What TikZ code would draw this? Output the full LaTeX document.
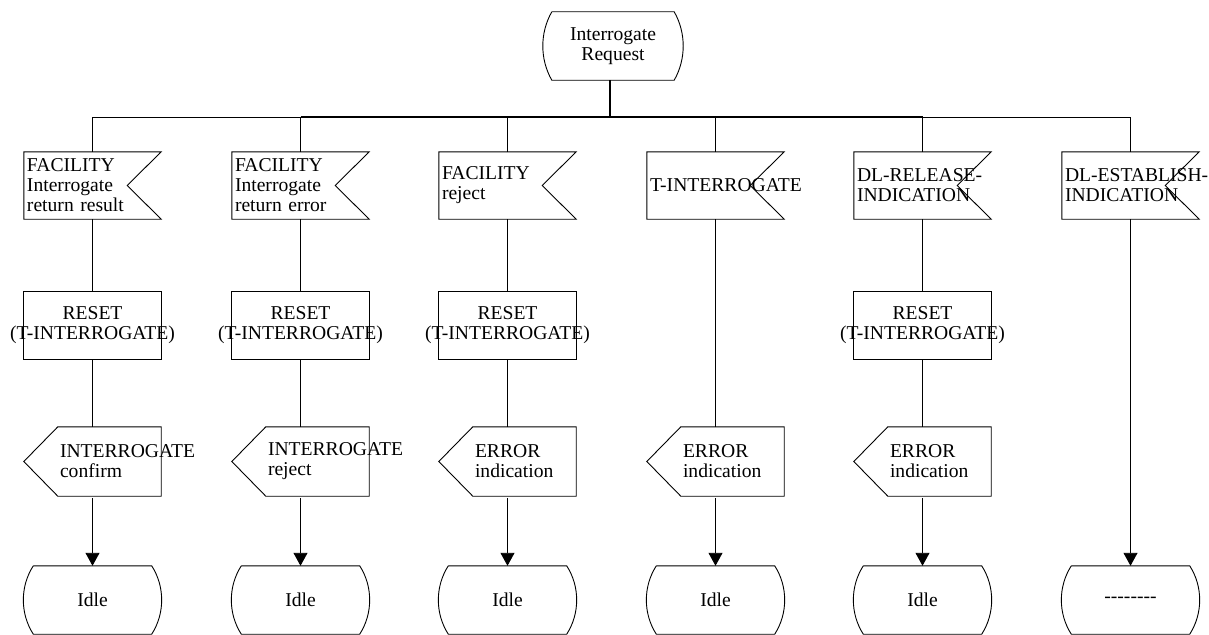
\documentclass[tikz,border=0pt]{standalone}
\usepackage{fontspec}
\setmainfont{Liberation Serif}
\usetikzlibrary{arrows.meta}
\begin{document}
\begin{tikzpicture}[x=1pt,y=-1pt,
  base/.style={draw=none, inner ysep=0pt, font=\fontsize{19.6}{20}\selectfont},
  insig/.style={base, minimum height=67pt, text width=131pt, inner xsep=3pt, align=left},
  outsig/.style={base, minimum height=69pt, text width=99pt, inner xsep=2pt, align=left},
  task/.style={base, draw=black, line width=0.9pt, minimum height=68pt, text width=170pt, inner xsep=-16pt, align=center},
  state/.style={base, minimum height=68pt, text width=118pt, inner xsep=0pt, align=center},
  topstate/.style={state, text width=122pt},
  outline/.style={draw=black, line width=0.9pt, line join=miter},
  flow/.style={draw=black, line width=0.9pt},
  arrowflow/.style={flow, -{Triangle[length=13pt,width=14pt]}},
]
\useasboundingbox (0,0) rectangle (1209,634);

% top start state
\node[topstate] (s0) at (613,46) {Interrogate\\Request};
\coordinate (j) at (610,117);

% input signals
\node[insig] (f1) at (92.5,185.5) {\mbox{FACILITY}\\\mbox{Interrogate}\\\mbox{return result}};
\node[insig] (f2) at (300.5,185.5) {\mbox{FACILITY}\\\mbox{Interrogate}\\\mbox{return error}};
\node[insig] (f3) at (507.5,185.5) {\mbox{FACILITY}\\\mbox{reject}};
\node[insig] (f4) at (715.5,185.5) {\mbox{T-INTERROGATE}};
\node[insig] (f5) at (922.5,185.5) {\mbox{DL-RELEASE-}\\\mbox{INDICATION}};
\node[insig] (f6) at (1130.5,185.5) {\mbox{DL-ESTABLISH-}\\\mbox{INDICATION}};

% tasks
\node[task] (r1) at (92.5,325) {RESET\\\mbox{(T-INTERROGATE)}};
\node[task] (r2) at (300.5,325) {RESET\\\mbox{(T-INTERROGATE)}};
\node[task] (r3) at (507.5,325) {RESET\\\mbox{(T-INTERROGATE)}};
\node[task] (r5) at (922.5,325) {RESET\\\mbox{(T-INTERROGATE)}};

% output signals (rectangular part; point drawn to the left)
\node[outsig] (o1) at (109.5,461.5) {\mbox{INTERROGATE}\\confirm};
\node[outsig] (o2) at (317.5,461.5) {\mbox{INTERROGATE}\\reject};
\node[outsig] (o3) at (524.5,461.5) {ERROR\\indication};
\node[outsig] (o4) at (732.5,461.5) {ERROR\\indication};
\node[outsig] (o5) at (939.5,461.5) {ERROR\\indication};

% end states
\node[state] (s1) at (92.5,600) {Idle};
\node[state] (s2) at (300.5,600) {Idle};
\node[state] (s3) at (507.5,600) {Idle};
\node[state] (s4) at (715.5,600) {Idle};
\node[state] (s5) at (922.5,600) {Idle};
\node[state] (s6) at (1130.5,600) {-{}-{}-{}-{}-{}-{}-{}-};

% outlines of state symbols (sides are circular arcs)
\draw[outline] (s0.north west) -- (s0.north east)
  .. controls ([shift={(12,21)}]s0.north east) and ([shift={(12,-21)}]s0.south east) .. (s0.south east)
  -- (s0.south west)
  .. controls ([shift={(-12,-21)}]s0.south west) and ([shift={(-12,21)}]s0.north west) .. (s0.north west);
\foreach \n in {s1,s2,s3,s4,s5,s6}{
  \draw[outline] (\n.north west) -- (\n.north east)
    .. controls ([shift={(13.3,20.7)}]\n.north east) and ([shift={(13.3,-20.7)}]\n.south east) .. (\n.south east)
    -- (\n.south west)
    .. controls ([shift={(-13.3,-20.7)}]\n.south west) and ([shift={(-13.3,20.7)}]\n.north west) .. (\n.north west);
}
% outlines of input signals
\foreach \n in {f1,f2,f3,f4,f5,f6}{
  \draw[outline] (\n.north west) -- (\n.north east) -- ([xshift=-34pt]\n.east) -- (\n.south east)
    -- (\n.south west) -- cycle;
}
% outlines of output signals
\foreach \n in {o1,o2,o3,o4,o5}{
  \draw[outline] (\n.north west) -- (\n.north east) -- (\n.south east) -- (\n.south west)
    -- ([xshift=-34pt]\n.west) -- cycle;
}

% stem and bus
\draw[flow, line width=2.2pt] (s0.south -| j) -- ([yshift=1pt]j);
\draw[flow] (f1.north |- j) -- (f6.north |- j);
\draw[flow, line width=2pt] (f2.north |- j) -- (f5.north |- j);
\foreach \n in {f1,f2,f3,f4,f5,f6}{
  \draw[flow] (\n.north |- j) -- (\n.north);
}

% columns
\foreach \i in {1,2,3,5}{
  \draw[flow] (f\i.south) -- (r\i.north);
  \draw[flow] (r\i.south) -- (r\i.south |- o\i.north);
}
\draw[flow] (f4.south) -- (f4.south |- o4.north);
\foreach \i in {1,2,3,4,5}{
  \draw[arrowflow, shorten <=2pt] (s\i.north |- o\i.south) -- (s\i.north);
}
\draw[arrowflow] (f6.south) -- (s6.north);
\end{tikzpicture}
\end{document}
